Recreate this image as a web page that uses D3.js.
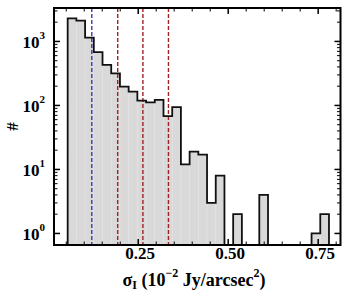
<!DOCTYPE html>
<html lang="en">
  <head>
    <meta charset="UTF-8">
    <title>sigma_I histogram</title>
    <style>
      body { margin: 0; background: #fff; }
      text { font-family: "Liberation Serif", "DejaVu Serif", serif; font-weight: bold; fill: #000; }
    </style>
  </head>
  <body>
    <svg id="chart"></svg>
    <script src="https://cdn.jsdelivr.net/npm/d3@7"></script>
    <script>
      // histogram range (10^-2 Jy/arcsec^2) and counts per bin
      var binRange = [0.054, 0.780];
      var counts = [2300, 2110, 1150, 680, 430, 318, 197, 164, 119, 112,
                    122, 68, 94, 12, 19, 17, 3, 8, 0, 2,
                    0, 0, 4, 0, 0, 0, 0, 0, 1, 2];
      // vertical reference lines
      var blueLines = [0.121];
      var redLines = [0.193, 0.263, 0.334];
      var xTicks = [0.25, 0.50, 0.75];
      var yTicks = [1, 10, 100, 1000];

      var W = 350, H = 300;
      var m = { left: 54, right: 340.5, top: 8, bottom: 245 };

      var svg = d3.select("#chart").attr("width", W).attr("height", H);

      var x = d3.scaleLinear().domain([0.016, 0.812]).range([m.left, m.right]);
      var y = d3.scaleLog().domain([0.66, 3330]).range([m.bottom, m.top]);

      var nb = counts.length;
      var bw = (binRange[1] - binRange[0]) / nb;
      var bins = counts.map(function(c, i) {
        return { x0: binRange[0] + i * bw, x1: binRange[0] + (i + 1) * bw, n: c };
      });

      // filled bars
      svg.append("g").selectAll("rect")
        .data(bins.filter(function(d) { return d.n > 0; }))
        .enter().append("rect")
        .attr("x", function(d) { return x(d.x0); })
        .attr("width", function(d) { return x(d.x1) - x(d.x0); })
        .attr("y", function(d) { return y(d.n); })
        .attr("height", function(d) { return m.bottom - y(d.n); })
        .attr("fill", "#d9d9d9")
        .attr("stroke", "#e3e3e3")
        .attr("stroke-width", 0.6);

      // dashed reference lines
      function vline(v, col) {
        svg.append("line")
          .attr("x1", x(v)).attr("x2", x(v))
          .attr("y1", m.top).attr("y2", m.bottom)
          .attr("stroke", col)
          .attr("stroke-width", 1.4)
          .attr("stroke-dasharray", "4,2");
      }
      blueLines.forEach(function(v) { vline(v, "#3a3ab0"); });
      redLines.forEach(function(v) { vline(v, "#a52020"); });

      // step outline
      var pts = [[x(bins[0].x0), m.bottom]];
      bins.forEach(function(d) {
        var yy = d.n > 0 ? y(d.n) : m.bottom;
        pts.push([x(d.x0), yy]);
        pts.push([x(d.x1), yy]);
      });
      pts.push([x(bins[nb - 1].x1), m.bottom]);
      svg.append("path")
        .attr("d", d3.line()(pts))
        .attr("fill", "none")
        .attr("stroke", "#111")
        .attr("stroke-width", 1.8)
        .attr("stroke-linejoin", "miter");

      // ticks (inward, mirrored)
      var tk = svg.append("g").attr("stroke", "#000");
      d3.range(0.05, 0.81, 0.05).forEach(function(v) {
        var major = xTicks.some(function(t) { return Math.abs(t - v) < 1e-6; });
        var len = major ? 6 : 3.5;
        var px = x(v);
        tk.append("line").attr("x1", px).attr("x2", px).attr("y1", m.bottom).attr("y2", m.bottom - len).attr("stroke-width", major ? 1.5 : 1);
        tk.append("line").attr("x1", px).attr("x2", px).attr("y1", m.top).attr("y2", m.top + len).attr("stroke-width", major ? 1.5 : 1);
      });
      [1, 10, 100, 1000].forEach(function(dec) {
        d3.range(1, 10).forEach(function(k) {
          var v = dec * k;
          if (v > 3330) return;
          var major = k === 1;
          var len = major ? 6 : 3.5;
          var py = y(v);
          tk.append("line").attr("x1", m.left).attr("x2", m.left + len).attr("y1", py).attr("y2", py).attr("stroke-width", major ? 1.5 : 1);
          tk.append("line").attr("x1", m.right).attr("x2", m.right - len).attr("y1", py).attr("y2", py).attr("stroke-width", major ? 1.5 : 1);
        });
      });

      // frame
      svg.append("rect")
        .attr("x", m.left).attr("y", m.top)
        .attr("width", m.right - m.left).attr("height", m.bottom - m.top)
        .attr("fill", "none").attr("stroke", "#000").attr("stroke-width", 2);

      // x tick labels
      svg.append("g").selectAll("text")
        .data(xTicks).enter().append("text")
        .attr("x", function(d) { return x(d) + 2; })
        .attr("y", 259)
        .attr("text-anchor", "middle")
        .style("font-size", "17px")
        .text(function(d) { return d3.format(".2f")(d); });

      // y tick labels 10^n
      var yl = svg.append("g").selectAll("text")
        .data(yTicks).enter().append("text")
        .attr("x", 45)
        .attr("y", function(d) { return y(d) + 6.5; })
        .attr("text-anchor", "end")
        .style("font-size", "17px");
      yl.append("tspan").text("10");
      yl.append("tspan")
        .attr("dy", -8.5)
        .style("font-size", "11px")
        .text(function(d) { return Math.round(Math.log10(d)); });

      // axis labels
      var xl = svg.append("text")
        .attr("x", 194).attr("y", 286)
        .attr("text-anchor", "middle")
        .style("font-size", "18px");
      xl.append("tspan").text("σ");
      xl.append("tspan").attr("dy", 3).style("font-size", "12px").text("I");
      xl.append("tspan").attr("dy", -3).text(" (10");
      xl.append("tspan").attr("dy", -9).style("font-size", "12px").text("−2");
      xl.append("tspan").attr("dy", 9).text(" Jy/arcsec");
      xl.append("tspan").attr("dy", -9).style("font-size", "12px").text("2");
      xl.append("tspan").attr("dy", 9).text(")");

      svg.append("text")
        .attr("transform", "translate(18,126.5) rotate(-90)")
        .attr("text-anchor", "middle")
        .style("font-size", "17px")
        .text("#");
    </script>
  </body>
</html>
